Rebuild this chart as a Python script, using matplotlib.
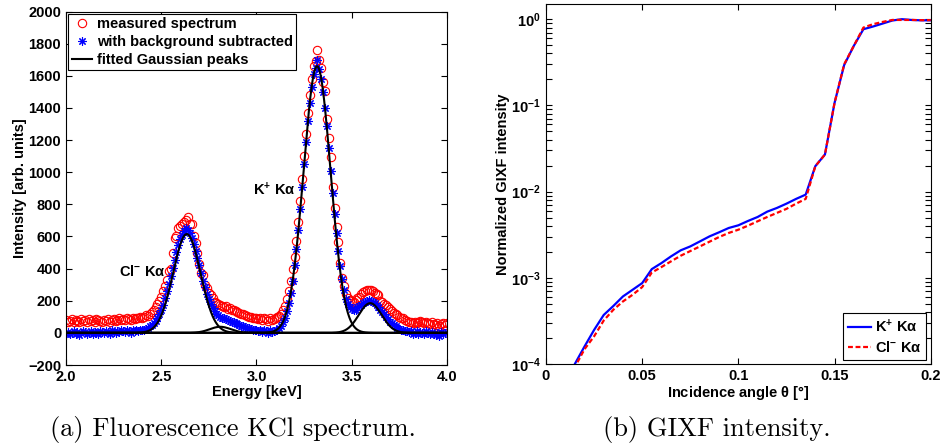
import numpy as np
import matplotlib
matplotlib.use('Agg')
import matplotlib.pyplot as plt
from matplotlib.ticker import FixedLocator, FuncFormatter, LogLocator, NullFormatter

# ---- data: fluorescence spectrum (a) ----
energy = np.linspace(2.0, 4.0, 201)  # keV, 0.01 steps

measured = [
    80, 70, 75, 85, 70, 80, 75, 70, 85, 75,
    80, 70, 85, 75, 80, 70, 85, 80, 75, 70,
    80, 75, 85, 70, 80, 85, 75, 80, 90, 80,
    85, 80, 90, 85, 80, 90, 85, 95, 90, 100,
    95, 100, 110, 105, 120, 130, 140, 160, 180, 200,
    225, 260, 290, 330, 385, 400, 500, 590, 600, 650,
    665, 680, 690, 700, 720, 680, 680, 600, 560, 495,
    430, 375, 360, 300, 280, 250, 235, 215, 195, 185,
    180, 175, 170, 160, 165, 150, 155, 140, 145, 135,
    130, 125, 120, 115, 110, 105, 100, 100, 95, 95,
    90, 85, 95, 80, 90, 85, 75, 90, 80, 85,
    90, 100, 105, 120, 140, 170, 210, 260, 325, 400,
    470, 570, 690, 820, 955, 1100, 1240, 1370, 1480, 1580,
    1660, 1690, 1760, 1700, 1650, 1560, 1505, 1330, 1215, 1095,
    905, 775, 660, 565, 435, 340, 290, 245, 215, 205,
    200, 195, 205, 215, 225, 240, 255, 260, 270, 265,
    270, 260, 250, 245, 235, 200, 195, 180, 175, 160,
    150, 135, 125, 115, 110, 100, 95, 90, 80, 75,
    70, 65, 60, 70, 60, 65, 75, 70, 60, 65,
    60, 55, 65, 55, 50, 60, 45, 55, 60, 50,
    60,
]

subtracted = [
    -5, 5, -10, 0, 10, -5, 5, -15, 0, 10,
    5, -5, 0, 10, -10, 5, 0, -5, 10, 5,
    0, 10, 5, -5, 15, 5, 0, 10, 5, 15,
    10, 5, 15, 10, 0, 15, 10, 20, 10, 15,
    15, 20, 25, 30, 40, 50, 60, 75, 95, 115,
    140, 175, 215, 260, 305, 355, 405, 455, 505, 545,
    585, 610, 635, 650, 640, 620, 590, 555, 510, 465,
    420, 370, 325, 285, 245, 210, 180, 155, 135, 120,
    110, 100, 95, 90, 85, 80, 75, 70, 65, 60,
    55, 50, 45, 40, 35, 30, 28, 25, 20, 18,
    15, 10, 20, 5, 15, 10, 0, 15, 5, 10,
    15, 20, 30, 45, 65, 95, 135, 185, 250, 325,
    420, 520, 640, 770, 905, 1050, 1190, 1320, 1430, 1530,
    1610, 1650, 1700, 1640, 1580, 1500, 1400, 1285, 1150, 1010,
    870, 740, 620, 510, 415, 335, 270, 210, 180, 160,
    150, 145, 145, 160, 165, 175, 185, 195, 200, 205,
    200, 195, 185, 175, 160, 145, 130, 115, 100, 85,
    70, 60, 50, 40, 32, 25, 20, 15, 12, 10,
    5, 10, -5, 0, 10, -10, 5, 0, -5, 10,
    0, -10, 5, -5, -15, 0, -20, 5, -10, 0,
    5,
]

# fitted Gaussian peaks: centre [keV], height, sigma [keV]
peak_centers = [2.634, 2.81, 3.318, 3.597]
peak_heights = [615, 38, 1660, 185]
peak_sigmas = [0.072, 0.055, 0.071, 0.060]

# ---- data: GIXF intensity (b) ----
angle = [0.010, 0.015, 0.020, 0.025, 0.030, 0.035, 0.040, 0.045, 0.050, 0.055,
         0.060, 0.065, 0.070, 0.075, 0.080, 0.085, 0.090, 0.095, 0.100, 0.105,
         0.110, 0.115, 0.120, 0.125, 0.130, 0.135, 0.140, 0.145, 0.150, 0.155,
         0.160, 0.165, 0.170, 0.175, 0.180, 0.185, 0.190, 0.195, 0.200]

k_intensity = [5.6e-5, 1.0e-4, 1.59e-4, 2.48e-4, 3.7e-4, 4.7e-4, 6.07e-4, 7.25e-4, 8.67e-4, 1.26e-3,
               1.48e-3, 1.77e-3, 2.08e-3, 2.31e-3, 2.64e-3, 3.02e-3, 3.37e-3, 3.78e-3, 4.06e-3, 4.56e-3,
               5.07e-3, 5.85e-3, 6.45e-3, 7.24e-3, 8.22e-3, 9.22e-3, 1.97e-2, 2.69e-2, 0.107, 0.294,
               0.49, 0.765, 0.822, 0.89, 0.965, 1.0, 0.98, 0.97, 0.97]

cl_intensity = [5.0e-5, 9.2e-5, 1.48e-4, 2.09e-4, 3.19e-4, 4.25e-4, 5.31e-4, 6.34e-4, 7.79e-4, 1.15e-3,
                1.33e-3, 1.55e-3, 1.8e-3, 2.04e-3, 2.31e-3, 2.62e-3, 2.97e-3, 3.31e-3, 3.61e-3, 4.02e-3,
                4.52e-3, 5.07e-3, 5.65e-3, 6.3e-3, 7.24e-3, 8.22e-3, 1.97e-2, 2.69e-2, 0.107, 0.30,
                0.49, 0.80, 0.875, 0.93, 0.98, 0.98, 0.98, 0.975, 0.975]

# ---- style: MATLAB-like bold Helvetica ----
plt.rcParams['font.family'] = ['Liberation Sans', 'DejaVu Sans']
plt.rcParams['font.weight'] = 'bold'
plt.rcParams['axes.labelweight'] = 'bold'
plt.rcParams['font.size'] = 10.5
plt.rcParams['mathtext.fontset'] = 'custom'
plt.rcParams['mathtext.rm'] = 'Liberation Sans'
plt.rcParams['mathtext.bf'] = 'Liberation Sans:bold'
plt.rcParams['mathtext.it'] = 'Liberation Sans:italic'
plt.rcParams['mathtext.default'] = 'bf'
plt.rcParams['axes.linewidth'] = 0.8


def style_axes(ax):
    ax.tick_params(which='both', direction='in', top=True, right=True,
                   length=4.5, width=0.8, pad=3.5)


fig = plt.figure(figsize=(9.43, 4.46), dpi=100)

# ---- (a) spectrum ----
ax1 = fig.add_axes([0.070, 0.1816, 0.404, 0.7924])
ax1.plot(energy, measured, 'o', mfc='none', mec='red', ms=6, mew=0.8,
         label='measured spectrum')
ax1.plot(energy, subtracted, ls='none', marker=(8, 2, 0), color='blue',
         ms=6, mew=0.8, label='with background subtracted')

e_fine = np.linspace(2.0, 4.0, 801)
for i in range(len(peak_centers)):
    g = peak_heights[i] * np.exp(-(e_fine - peak_centers[i]) ** 2 / (2 * peak_sigmas[i] ** 2))
    ax1.plot(e_fine, g, color='black', lw=1.5,
             label='fitted Gaussian peaks' if i == 0 else None)

ax1.text(2.98, 890, r'K$^{+}$ K$\mathrm{\alpha}$', va='center', ha='left')
ax1.text(2.28, 380, r'Cl$^{-}$ K$\mathrm{\alpha}$', va='center', ha='left')

ax1.set_xlim(2.0, 4.0)
ax1.set_ylim(-200, 2000)
ax1.xaxis.set_major_locator(FixedLocator([2.0, 2.5, 3.0, 3.5, 4.0]))
ax1.xaxis.set_major_formatter(FuncFormatter(lambda v, p: '%.1f' % v))
ax1.yaxis.set_major_locator(FixedLocator(np.arange(-200, 2001, 200)))
ax1.yaxis.set_major_formatter(FuncFormatter(lambda v, p: '%d' % v if v >= 0 else '\u2212%d' % -v))
ax1.set_xlabel('Energy [keV]', labelpad=1)
ax1.set_ylabel('Intensity [arb. units]', labelpad=1)
style_axes(ax1)

leg1 = ax1.legend(loc='upper left', bbox_to_anchor=(0.0, 1.0), borderaxespad=0.15,
                  fancybox=False, framealpha=1, edgecolor='black', handlelength=1.4,
                  handletextpad=0.3, labelspacing=0.25, borderpad=0.25)
leg1.get_frame().set_linewidth(0.8)

# ---- (b) GIXF ----
ax2 = fig.add_axes([0.579, 0.184, 0.408, 0.807])
ax2.semilogy(angle, k_intensity, color='blue', lw=1.6, label=r'K$^{+}$ K$\mathrm{\alpha}$')
ax2.semilogy(angle, cl_intensity, color='red', lw=1.6, ls='--', dashes=(2.2, 1.2),
             label=r'Cl$^{-}$ K$\mathrm{\alpha}$')
ax2.set_xlim(0, 0.2)
ax2.set_ylim(1e-4, 1.5)
ax2.xaxis.set_major_locator(FixedLocator([0, 0.05, 0.1, 0.15, 0.2]))
ax2.xaxis.set_major_formatter(FuncFormatter(lambda v, p: '%g' % v))
ax2.yaxis.set_major_locator(LogLocator(base=10, numticks=10))
ax2.yaxis.set_minor_locator(LogLocator(base=10, subs=np.arange(2, 10), numticks=20))
ax2.yaxis.set_minor_formatter(NullFormatter())
ax2.yaxis.set_major_formatter(FuncFormatter(lambda v, p: r'$\mathbf{10^{%d}}$' % round(np.log10(v))))
ax2.set_xlabel(r'Incidence angle $\mathrm{\theta}$ [°]', labelpad=1)
ax2.set_ylabel('Normalized GIXF intensity', labelpad=1)
style_axes(ax2)

leg2 = ax2.legend(loc='lower right', borderaxespad=0.3, fancybox=False, framealpha=1,
                  edgecolor='black', handlelength=1.6, handletextpad=0.3,
                  labelspacing=0.35, borderpad=0.3)
leg2.get_frame().set_linewidth(0.8)

# ---- captions ----
fig.text(0.247, 0.022, '(a) Fluorescence KCl spectrum.', family='cmr10',
         weight='normal', size=19, ha='center', va='baseline')
fig.text(0.760, 0.022, '(b) GIXF intensity.', family='cmr10',
         weight='normal', size=19, ha='center', va='baseline')

plt.savefig('out.png', dpi=100)
